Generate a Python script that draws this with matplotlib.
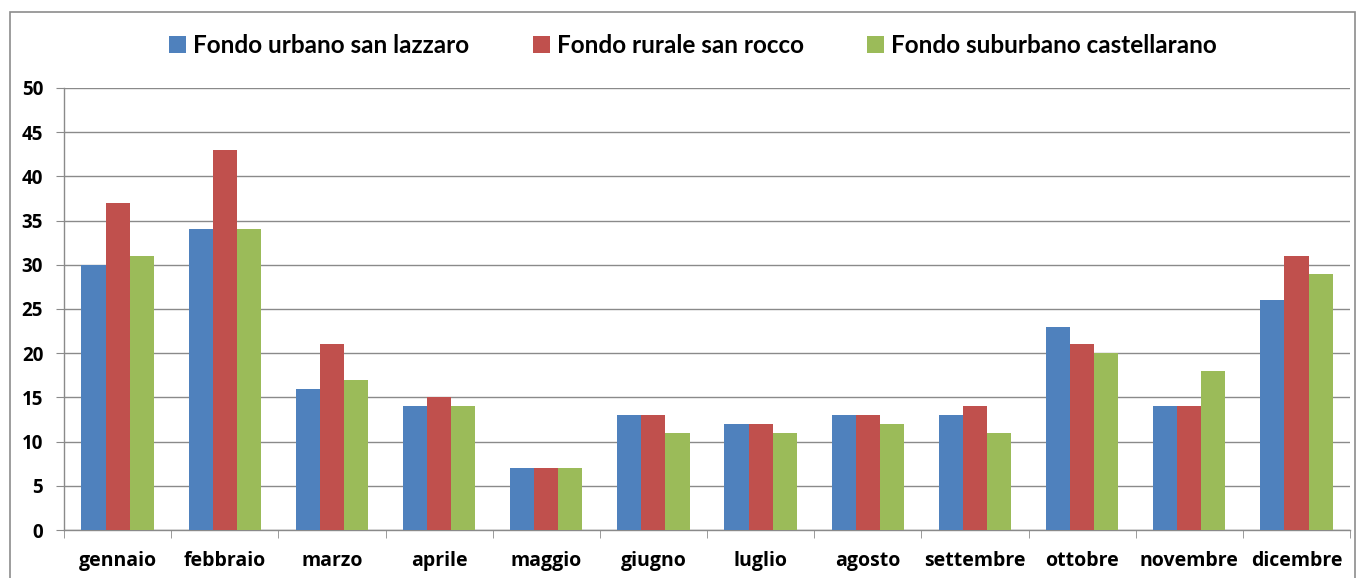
import matplotlib.pyplot as plt
import numpy as np
from matplotlib.patches import Rectangle

mesi = ["gennaio", "febbraio", "marzo", "aprile", "maggio", "giugno",
        "luglio", "agosto", "settembre", "ottobre", "novembre", "dicembre"]
san_lazzaro = [30, 34, 16, 14, 7, 13, 12, 13, 13, 23, 14, 26]
san_rocco = [37, 43, 21, 15, 7, 13, 12, 13, 14, 21, 14, 31]
castellarano = [31, 34, 17, 14, 7, 11, 11, 12, 11, 20, 18, 29]

serie = [
    ("Fondo urbano san lazzaro", san_lazzaro, "#4F81BD"),
    ("Fondo rurale san rocco", san_rocco, "#C0504D"),
    ("Fondo suburbano castellarano", castellarano, "#9BBB59"),
]

plt.rcParams["font.family"] = ["Open Sans", "DejaVu Sans"]

fig = plt.figure(figsize=(13.59, 5.78), dpi=100)
ax = fig.add_axes([0.0471, 0.0830, 0.9463, 0.7648])

# cornice esterna del grafico
fig.patches.append(Rectangle((0.0074, -0.05), 0.9897, 1.029, transform=fig.transFigure,
                             fill=False, edgecolor="#8c8c8c", linewidth=1.2))

x = np.arange(len(mesi))
w = 0.225
for i, (nome, valori, colore) in enumerate(serie):
    ax.bar(x + (i - 1) * w, valori, width=w, color=colore, label=nome, zorder=3)

ax.set_xlim(-0.5, len(mesi) - 0.5)
ax.set_ylim(0, 50)
ax.set_yticks(range(0, 51, 5))
ax.grid(axis="y", color="#8a8a8a", linewidth=1, zorder=0)

ax.set_xticks(x)
ax.set_xticks(np.arange(-0.5, len(mesi)), minor=True)
ax.tick_params(axis="x", which="major", length=0, pad=15, labelsize=14)
ax.tick_params(axis="x", which="minor", length=6, color="#8a8a8a")
ax.tick_params(axis="y", length=6, color="#8a8a8a", pad=9, labelsize=13.5)
ax.set_xticklabels(mesi, fontweight="bold")
for t in ax.get_yticklabels():
    t.set_fontweight("bold")

for s in ["top", "right"]:
    ax.spines[s].set_visible(False)
for s in ["left", "bottom"]:
    ax.spines[s].set_color("#8a8a8a")
    ax.spines[s].set_linewidth(1)

fig.legend(loc="center", bbox_to_anchor=(0.51, 0.922), ncol=3, frameon=False,
           prop={"family": ["Lato", "DejaVu Sans"], "size": 17.5, "weight": "bold"},
           handlelength=0.7, handleheight=0.7, handletextpad=0.3, columnspacing=2.6)

fig.savefig("out.png", dpi=100)
